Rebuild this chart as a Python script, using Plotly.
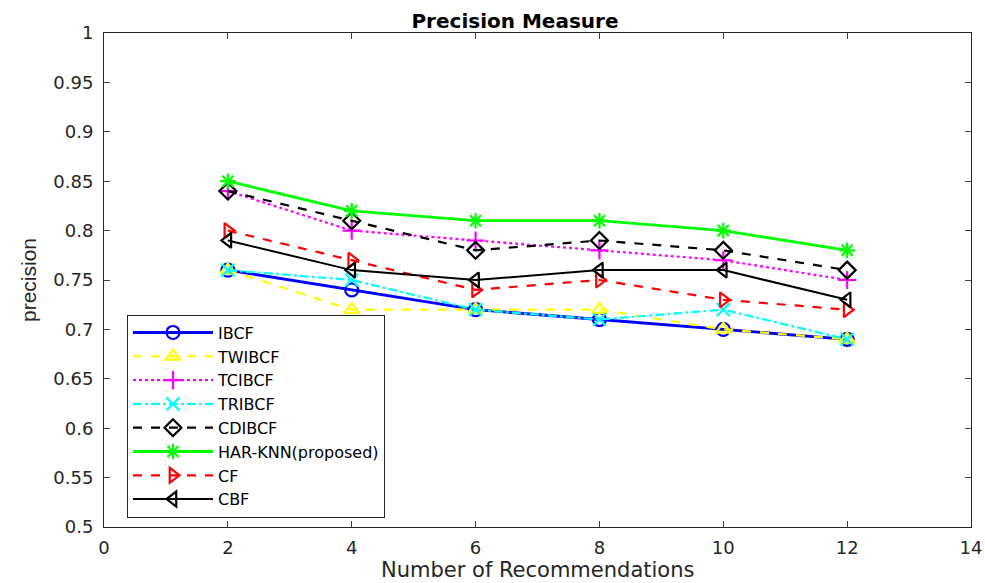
import plotly.graph_objects as go

x_vals = [2, 4, 6, 8, 10, 12]
ibcf = [0.76, 0.74, 0.72, 0.71, 0.70, 0.69]
twibcf = [0.76, 0.72, 0.72, 0.72, 0.70, 0.69]
tcibcf = [0.84, 0.80, 0.79, 0.78, 0.77, 0.75]
tribcf = [0.76, 0.75, 0.72, 0.71, 0.72, 0.69]
cdibcf = [0.84, 0.81, 0.78, 0.79, 0.78, 0.76]
harknn = [0.85, 0.82, 0.81, 0.81, 0.80, 0.78]
cf = [0.80, 0.77, 0.74, 0.75, 0.73, 0.72]
cbf = [0.79, 0.76, 0.75, 0.76, 0.76, 0.73]

y_ticks = [0.5, 0.55, 0.6, 0.65, 0.7, 0.75, 0.8, 0.85, 0.9, 0.95, 1]
y_tick_labels = ["0.5", "0.55", "0.6", "0.65", "0.7", "0.75", "0.8", "0.85", "0.9", "0.95", "1"]
x_ticks = [0, 2, 4, 6, 8, 10, 12, 14]

series = [
    ("IBCF", ibcf, "#0000ff", "solid", 2.8, "circle-open"),
    ("TWIBCF", twibcf, "#ffff00", "dash", 2.2, "triangle-up-open"),
    ("TCIBCF", tcibcf, "#ff00ff", "dot", 2.2, "cross-thin-open"),
    ("TRIBCF", tribcf, "#00ffff", "dashdot", 2.2, "x-thin-open"),
    ("CDIBCF", cdibcf, "#000000", "dash", 2.2, "diamond-open"),
    ("HAR-KNN(proposed)", harknn, "#00ff00", "solid", 2.8, "asterisk-open"),
    ("CF", cf, "#ff0000", "dash", 2.2, "triangle-right-open"),
    ("CBF", cbf, "#000000", "solid", 2, "triangle-left-open"),
]

fig = go.Figure()
for name, ys, color, dash, w, sym in series:
    fig.add_trace(go.Scatter(
        x=x_vals, y=ys, name=name, mode="lines+markers",
        line=dict(color=color, dash=dash, width=w),
        marker=dict(symbol=sym, size=13, color=color, line=dict(width=2.2, color=color)),
    ))

wide = "DejaVu Sans, Verdana, sans-serif"
narrow = "Liberation Sans, Arial, sans-serif"
fig.update_layout(
    width=985, height=583,
    margin=dict(l=104, r=14, t=33, b=56),
    paper_bgcolor="white", plot_bgcolor="white",
    title=dict(text="<b>Precision Measure</b>", x=0.474, xref="paper", xanchor="center",
               y=1, yref="paper", yanchor="bottom", pad=dict(b=5),
               font=dict(family=wide, size=20, color="black")),
    font=dict(family=wide, size=18, color="#262626"),
    legend=dict(x=0.0265, y=0.43, xanchor="left", yanchor="top",
                bgcolor="white", bordercolor="#262626", borderwidth=1,
                font=dict(family=wide, size=16, color="black"),
                tracegroupgap=0, itemwidth=80),
    showlegend=True,
    annotations=[dict(text="Number of Recommendations", xref="paper", yref="paper",
                      x=0.5, y=-0.1134, xanchor="center", yanchor="bottom",
                      showarrow=False, borderpad=0,
                      font=dict(family=wide, size=21, color="#262626"))],
)
fig.update_xaxes(
    range=[0, 14], tickvals=x_ticks, ticks="inside", ticklen=6,
    ticklabelstandoff=4, automargin=False,
    showline=True, linecolor="#262626", linewidth=1, mirror="ticks",
    showgrid=False, zeroline=False,
)
fig.update_yaxes(
    range=[0.5, 1], tickvals=y_ticks, ticktext=y_tick_labels, ticks="inside", ticklen=6,
    ticklabelstandoff=6,
    showline=True, linecolor="#262626", linewidth=1, mirror="ticks",
    showgrid=False, zeroline=False,
    title=dict(text="precision", standoff=10,
               font=dict(family=narrow, size=21, color="#262626")),
)

fig.write_html("out.html")
